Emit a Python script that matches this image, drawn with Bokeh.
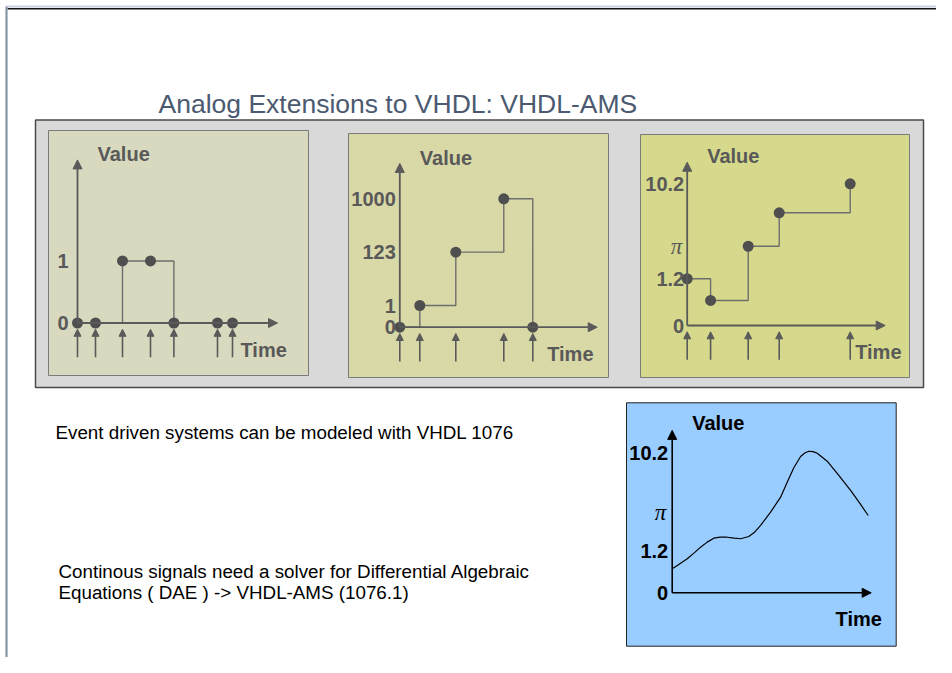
from bokeh.plotting import figure
from bokeh.models import Range1d, ColumnDataSource, Arrow, NormalHead
from bokeh.core.properties import value
from bokeh.embed import file_html
from bokeh.resources import INLINE

# ---------------- data (schematic units: time / display level) ----------------
title_text = "Analog Extensions to VHDL: VHDL-AMS"
note_event = "Event driven systems can be modeled with VHDL 1076"
note_cont = ["Continous signals need a solver for Differential Algebraic",
             "Equations ( DAE ) -> VHDL-AMS (1076.1)"]

# Panel 1: two-valued event signal
p1_times = [0.0, 0.9, 2.25, 3.65, 4.82, 7.0, 7.75]
p1_levels = [0.0, 0.0, 4.43, 4.43, 0.0, 0.0, 0.0]
p1_tick_levels = [0.0, 4.43]
p1_tick_labels = ["0", "1"]

# Panel 2: integer event signal
p2_times = [0.0, 1.0, 2.8, 5.2, 6.65]
p2_levels = [0.0, 1.55, 5.36, 9.17, 0.0]
p2_tick_levels = [0.0, 1.55, 5.36, 9.17]
p2_tick_labels = ["0", "1", "123", "1000"]

# Panel 3: real-valued event signal
p3_times = [0.0, 1.17, 3.05, 4.6, 8.15]
p3_levels = [3.34, 1.79, 5.66, 8.05, 10.12]
p3_tick_levels = [0.0, 3.34, 5.66, 10.12]
p3_tick_labels = ["0", "1.2", "\u03c0", "10.2"]

# Continuous signal
c_times = [0.05, 0.4, 0.75, 1.1, 1.42, 1.75, 2.08, 2.4, 2.75, 3.1, 3.42, 3.83, 4.1,
           4.42, 4.92, 5.42, 5.75, 6.08, 6.42, 6.65, 6.83, 7.05, 7.25, 7.75, 8.33,
           8.92, 9.42, 9.8]
c_levels = [1.76, 2.1, 2.43, 2.85, 3.26, 3.62, 3.9, 3.98, 3.97, 3.9, 3.86, 4.02, 4.3,
            4.81, 5.76, 6.83, 7.9, 8.93, 9.74, 10.0, 10.11, 10.08, 9.97, 9.4, 8.38,
            7.31, 6.31, 5.52]
c_tick_levels = [0.0, 3.02, 5.71, 10.0]
c_tick_labels = ["0", "1.2", "\u03c0", "10.2"]

# ---------------- page canvas (reference pixel coordinates) ----------------
W, H = 936, 657
X0, X1 = 0, W
Y0, Y1 = 0, H
SX, SY = 20.0, 14.0   # px per time unit / per level unit

FONT = value("Liberation Sans")

p = figure(width=W, height=H, output_backend="svg", toolbar_location=None,
           x_range=Range1d(X0, X1), y_range=Range1d(Y1, Y0),
           min_border=0, x_axis_type=None, y_axis_type=None)
p.outline_line_color = None
p.background_fill_color = "white"
p.border_fill_color = "white"
p.xgrid.visible = False
p.ygrid.visible = False

# slide frame
p.segment(x0=[6], y0=[6.0], x1=[X1], y1=[6.0], line_color="#c9d3e2", line_width=2)
p.segment(x0=[7], y0=[8.3], x1=[X1], y1=[8.3], line_color="#111111", line_width=1.6)
p.segment(x0=[6.0], y0=[6], x1=[6.0], y1=[Y1], line_color="#8794a8", line_width=2.2)

# title
p.text(x=[158], y=[103], text=[title_text], text_font=FONT, text_font_size="26.5px",
       text_color="#4b5a70", text_align="left", text_baseline="middle")

# grey container and event panels
p.quad(left=[35], right=[923], top=[119.5], bottom=[387], fill_color="#d9d9d9",
       line_color="#4a4a4a", line_width=1.5)
panel_boxes = [(48, 308, 130, 375, "#d8d9be"),
               (348, 608, 133, 377, "#d9d9a7"),
               (640, 909, 134, 377, "#d6d98b")]
for l, r, t, b, c in panel_boxes:
    p.quad(left=[l], right=[r], top=[t], bottom=[b], fill_color=c,
           line_color="#7a7a7a", line_width=1)

# continuous panel box
p.quad(left=[626], right=[895.7], top=[402.3], bottom=[645.7], fill_color="#99ccff",
       line_color="#222222", line_width=1)

# notes
p.text(x=[55], y=[431.7], text=[note_event], text_font=FONT, text_font_size="18.8px",
       text_color="black", text_align="left", text_baseline="middle")
p.text(x=[58, 58], y=[571, 592], text=note_cont, text_font=FONT, text_font_size="18.8px",
       text_color="black", text_align="left", text_baseline="middle")

# ---------------- panel coordinate systems ----------------
origins = {"p1": (77.0, 322.5), "p2": (399.3, 326.7),
           "p3": (686.7, 325.0), "c": (671.7, 592.3)}
xr, yr = {}, {}
for name, (ox, oy) in origins.items():
    xr[name] = Range1d((X0 - ox) / SX, (X1 - ox) / SX)
    yr[name] = Range1d((oy - Y1) / SY, (oy - Y0) / SY)
p.extra_x_ranges = xr
p.extra_y_ranges = yr


def draw_axes(name, t_end, v_end, color, lw):
    for xe, ye in [(t_end, 0.0), (0.0, v_end)]:
        p.add_layout(Arrow(x_start=0.0, y_start=0.0, x_end=xe, y_end=ye,
                           end=NormalHead(size=9, fill_color=color, line_color=color, line_width=1),
                           line_color=color, line_width=lw,
                           x_range_name=name, y_range_name=name))


def draw_labels(name, tick_levels, tick_labels, color, time_t, x_off):
    kw = dict(x_range_name=name, y_range_name=name)
    normal = [i for i, s in enumerate(tick_labels) if s != "\u03c0"]
    pis = [i for i, s in enumerate(tick_labels) if s == "\u03c0"]
    p.text(x=[0.0] * len(normal), y=[tick_levels[i] for i in normal],
           text=[tick_labels[i] for i in normal], x_offset=x_off,
           text_font=FONT, text_font_size="20px", text_font_style="bold",
           text_color=color, text_align="right", text_baseline="middle", **kw)
    if pis:
        p.text(x=[0.0] * len(pis), y=[tick_levels[i] for i in pis],
               text=[tick_labels[i] for i in pis], x_offset=x_off - 2,
               text_font=value("Liberation Serif"), text_font_size="23px",
               text_font_style="italic",
               text_color=color, text_align="right", text_baseline="middle", **kw)
    p.text(x=[1.0], y=[12.1], text=["Value"], text_font=FONT, text_font_size="20px",
           text_font_style="bold", text_color=color, text_align="left",
           text_baseline="middle", **kw)
    p.text(x=[time_t], y=[-1.9], text=["Time"], text_font=FONT, text_font_size="20px",
           text_font_style="bold", text_color=color, text_align="left",
           text_baseline="middle", **kw)


GRAY_TXT = "#595959"
GRAY_AX = "#5a5a5a"
DOT = "#4f4f4f"
STEP = "#6e6e6e"

event_panels = [
    ("p1", p1_times, p1_levels, p1_tick_levels, p1_tick_labels, 10.0, 11.65, 8.15, -9),
    ("p2", p2_times, p2_levels, p2_tick_levels, p2_tick_labels, 9.87, 11.7, 7.37, -4),
    ("p3", p3_times, p3_levels, p3_tick_levels, p3_tick_labels, 9.9, 11.66, 8.4, -3),
]
for name, ts, lv, tl, tlab, t_end, v_end, time_t, x_off in event_panels:
    kw = dict(x_range_name=name, y_range_name=name)
    draw_axes(name, t_end, v_end, GRAY_AX, 1.8)
    p.step(x=ts, y=lv, mode="after", line_color=STEP, line_width=1.4, **kw)
    p.scatter(x=ts, y=lv, size=11, fill_color=DOT, line_color=None, **kw)
    ev = ColumnDataSource(dict(t=ts, yb=[-2.45] * len(ts), yt=[-0.45] * len(ts)))
    p.add_layout(Arrow(x_start="t", y_start="yb", x_end="t", y_end="yt", source=ev,
                       end=NormalHead(size=7, fill_color=GRAY_AX, line_color=GRAY_AX, line_width=1),
                       line_color=GRAY_AX, line_width=1.6, **kw))
    draw_labels(name, tl, tlab, GRAY_TXT, time_t, x_off)

# continuous panel
draw_axes("c", 9.95, 11.6, "black", 1.6)
p.line(x=c_times, y=c_levels, line_color="black", line_width=1.2,
       x_range_name="c", y_range_name="c")
draw_labels("c", c_tick_levels, c_tick_labels, "black", 8.17, -4)

open("out.html", "w").write(file_html(p, INLINE))
